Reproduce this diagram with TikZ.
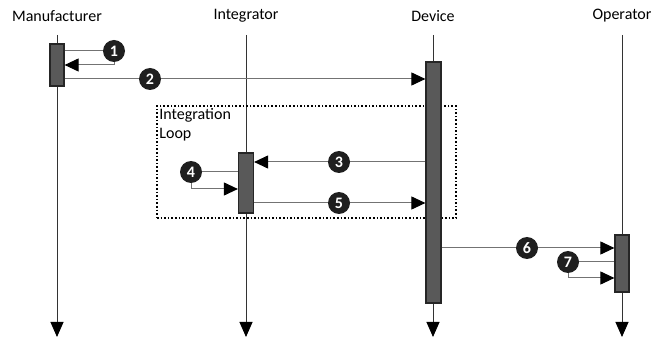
\documentclass[tikz,border=0pt]{standalone}
\usepackage{fontspec}
\setmainfont{Carlito}
\usetikzlibrary{arrows.meta,positioning}

\tikzset{
  life/.style={draw=black!80, line width=0.9pt, -{Triangle[length=15pt,width=13pt,color=black]}},
  act/.style={draw=black!85, fill=black!65, line width=1.2pt, minimum width=14pt, inner sep=0pt},
  msg/.style={draw=black!55, line width=1pt},
  tomsg/.style={msg, -{Triangle[length=14pt,width=13pt,color=black]}},
  num/.style={circle, fill=black!88, text=white, inner sep=0pt, minimum size=22pt,
    font=\bfseries\fontsize{16}{16}\selectfont},
}

\begin{document}
\begin{tikzpicture}[x=1pt, y=-1pt, font=\fontsize{16}{19}\selectfont]
  \useasboundingbox (0,0) rectangle (662,339);

  % lifelines
  \foreach \n/\x/\t in {man/57/Manufacturer, integ/246/Integrator, dev/433/Device, oper/622/Operator}{
    \node (\n) at (\x,16) {\t};
    \coordinate (\n-top) at (\x,35);
    \coordinate (\n-end) at (\x,337);
    \draw[life] (\n-top) -- (\n-end);
  }

  % integration loop
  \node[draw, dotted, line width=1.6pt, minimum width=299pt, minimum height=112pt] (loop) at (306.5,162) {};
  \node[anchor=north west, align=left, inner sep=3pt] (looplbl) at (loop.north west) {Integration\\Loop};

  % activations
  \node[act, minimum height=42pt] (mb) at (57,65) {};
  \node[act, minimum height=241pt, minimum width=15pt] (db) at (433.5,182.5) {};
  \node[act, minimum height=60pt, minimum width=15pt] (ib) at (246,183) {};
  \node[act, minimum height=57pt] (ob) at (622,263.5) {};

  % step markers
  \node[num] (n1) at (114,51) {1};
  \node[num] (n2) at (150,79) {2};
  \node[num] (n3) at (339,162) {3};
  \node[num] (n4) at (191,172) {4};
  \node[num] (n5) at (339,203) {5};
  \node[num] (n6) at (527,248) {6};
  \node[num] (n7) at (568,262) {7};

  % messages
  \draw[msg] (mb.east |- n1) -- (n1);
  \draw[tomsg] (n1) |- (mb.east);
  \draw[tomsg] (mb.east |- n2) -- (n2) -- (db.west |- n2);
  \draw[tomsg] (db.west |- n3) -- (n3) -- (ib.east |- n3);
  \draw[msg] (n4) -- (ib.west |- n4);
  \draw[tomsg] (n4) |- ([yshift=-6pt]ib.west);
  \draw[tomsg] (ib.east |- n5) -- (n5) -- (db.west |- n5);
  \draw[tomsg] (db.east |- n6) -- (n6) -- (ob.west |- n6);
  \draw[msg] (n7) -- (ob.west |- n7);
  \draw[tomsg] (n7) |- ([yshift=-14.5pt]ob.west);
\end{tikzpicture}
\end{document}
